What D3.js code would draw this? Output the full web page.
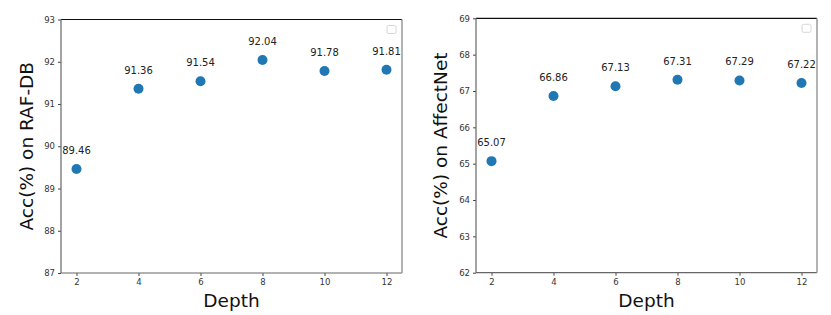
<!DOCTYPE html>
<html lang="en">
<head>
    <meta charset="UTF-8">
    <title>Accuracy vs Depth</title>
    <script src="https://d3js.org/d3.v7.min.js"></script>
    <style>
        body { margin: 0; background: #fff; }
        svg { font-family: "DejaVu Sans", sans-serif; }
    </style>
</head>
<body>
    <svg id="chart" width="831" height="315"></svg>
    <script>
        var depths = [2, 4, 6, 8, 10, 12];
        var rafdbAcc = [89.46, 91.36, 91.54, 92.04, 91.78, 91.81];
        var affectnetAcc = [65.07, 66.86, 67.13, 67.31, 67.29, 67.22];
        var rafdbTicks = [87, 88, 89, 90, 91, 92, 93];
        var affectnetTicks = [62, 63, 64, 65, 66, 67, 68, 69];

        var svg = d3.select("#chart");

        function drawPanel(left, right, top, bottom, values, yTicks, yLabel, labelX) {
            var g = svg.append("g");

            var xScale = d3.scaleLinear().domain([1.5, 12.5]).range([left, right]);
            var yScale = d3.scaleLinear()
                           .domain([yTicks[0], yTicks[yTicks.length - 1]])
                           .range([bottom, top]);

            g.append("g")
             .attr("transform", "translate(0," + bottom + ")")
             .call(d3.axisBottom(xScale).tickValues(depths).tickSize(3).tickPadding(3).tickFormat(d3.format("d")))
             .call(function(a) {
                 a.select(".domain").remove();
                 a.selectAll("line").attr("stroke", "#444");
                 a.selectAll("text").attr("fill", "#333").attr("font-size", "8.5px")
                  .attr("font-family", "DejaVu Sans");
             });

            g.append("g")
             .attr("transform", "translate(" + left + ",0)")
             .call(d3.axisLeft(yScale).tickValues(yTicks).tickSize(3).tickPadding(3).tickFormat(d3.format("d")))
             .call(function(a) {
                 a.select(".domain").remove();
                 a.selectAll("line").attr("stroke", "#444");
                 a.selectAll("text").attr("fill", "#333").attr("font-size", "8.5px")
                  .attr("font-family", "DejaVu Sans");
             });

            // frame
            g.append("line").attr("x1", left).attr("x2", right).attr("y1", top).attr("y2", top)
             .attr("stroke", "#111").attr("stroke-width", 1.2);
            g.append("line").attr("x1", left).attr("x2", left).attr("y1", top).attr("y2", bottom)
             .attr("stroke", "#666").attr("stroke-width", 1.2);
            g.append("line").attr("x1", left).attr("x2", right).attr("y1", bottom).attr("y2", bottom)
             .attr("stroke", "#666").attr("stroke-width", 1.2);
            g.append("line").attr("x1", right).attr("x2", right).attr("y1", top).attr("y2", bottom)
             .attr("stroke", "#999").attr("stroke-width", 1.5);

            // empty legend box
            g.append("rect")
             .attr("x", right - 15).attr("y", top + 6)
             .attr("width", 9).attr("height", 8)
             .attr("rx", 1.5)
             .attr("fill", "none")
             .attr("stroke", "#ccc")
             .attr("stroke-width", 0.8);

            g.selectAll("circle")
             .data(values)
             .enter().append("circle")
             .attr("cx", function(d, i) { return xScale(depths[i]); })
             .attr("cy", function(d) { return yScale(d); })
             .attr("r", 5)
             .attr("fill", "#1f77b4");

            g.selectAll(".val")
             .data(values)
             .enter().append("text")
             .attr("class", "val")
             .attr("x", function(d, i) { return xScale(depths[i]); })
             .attr("y", function(d) { return yScale(d) - 15; })
             .attr("text-anchor", "middle")
             .attr("font-size", "10px")
             .attr("fill", "#222")
             .text(function(d) { return d.toFixed(2); });

            g.append("text")
             .attr("x", (left + right) / 2)
             .attr("y", 307)
             .attr("text-anchor", "middle")
             .attr("font-size", "18.5px")
             .attr("fill", "#111")
             .text("Depth");

            g.append("text")
             .attr("transform", "translate(" + labelX + "," + ((top + bottom) / 2) + ") rotate(-90)")
             .attr("dy", "0.35em")
             .attr("text-anchor", "middle")
             .attr("font-size", "18.5px")
             .attr("fill", "#111")
             .text(yLabel);
        }

        drawPanel(61, 402, 19.5, 273, rafdbAcc, rafdbTicks, "Acc(%) on RAF-DB", 27);
        drawPanel(476, 817, 18.3, 272.7, affectnetAcc, affectnetTicks, "Acc(%) on AffectNet", 441);
    </script>
</body>
</html>
